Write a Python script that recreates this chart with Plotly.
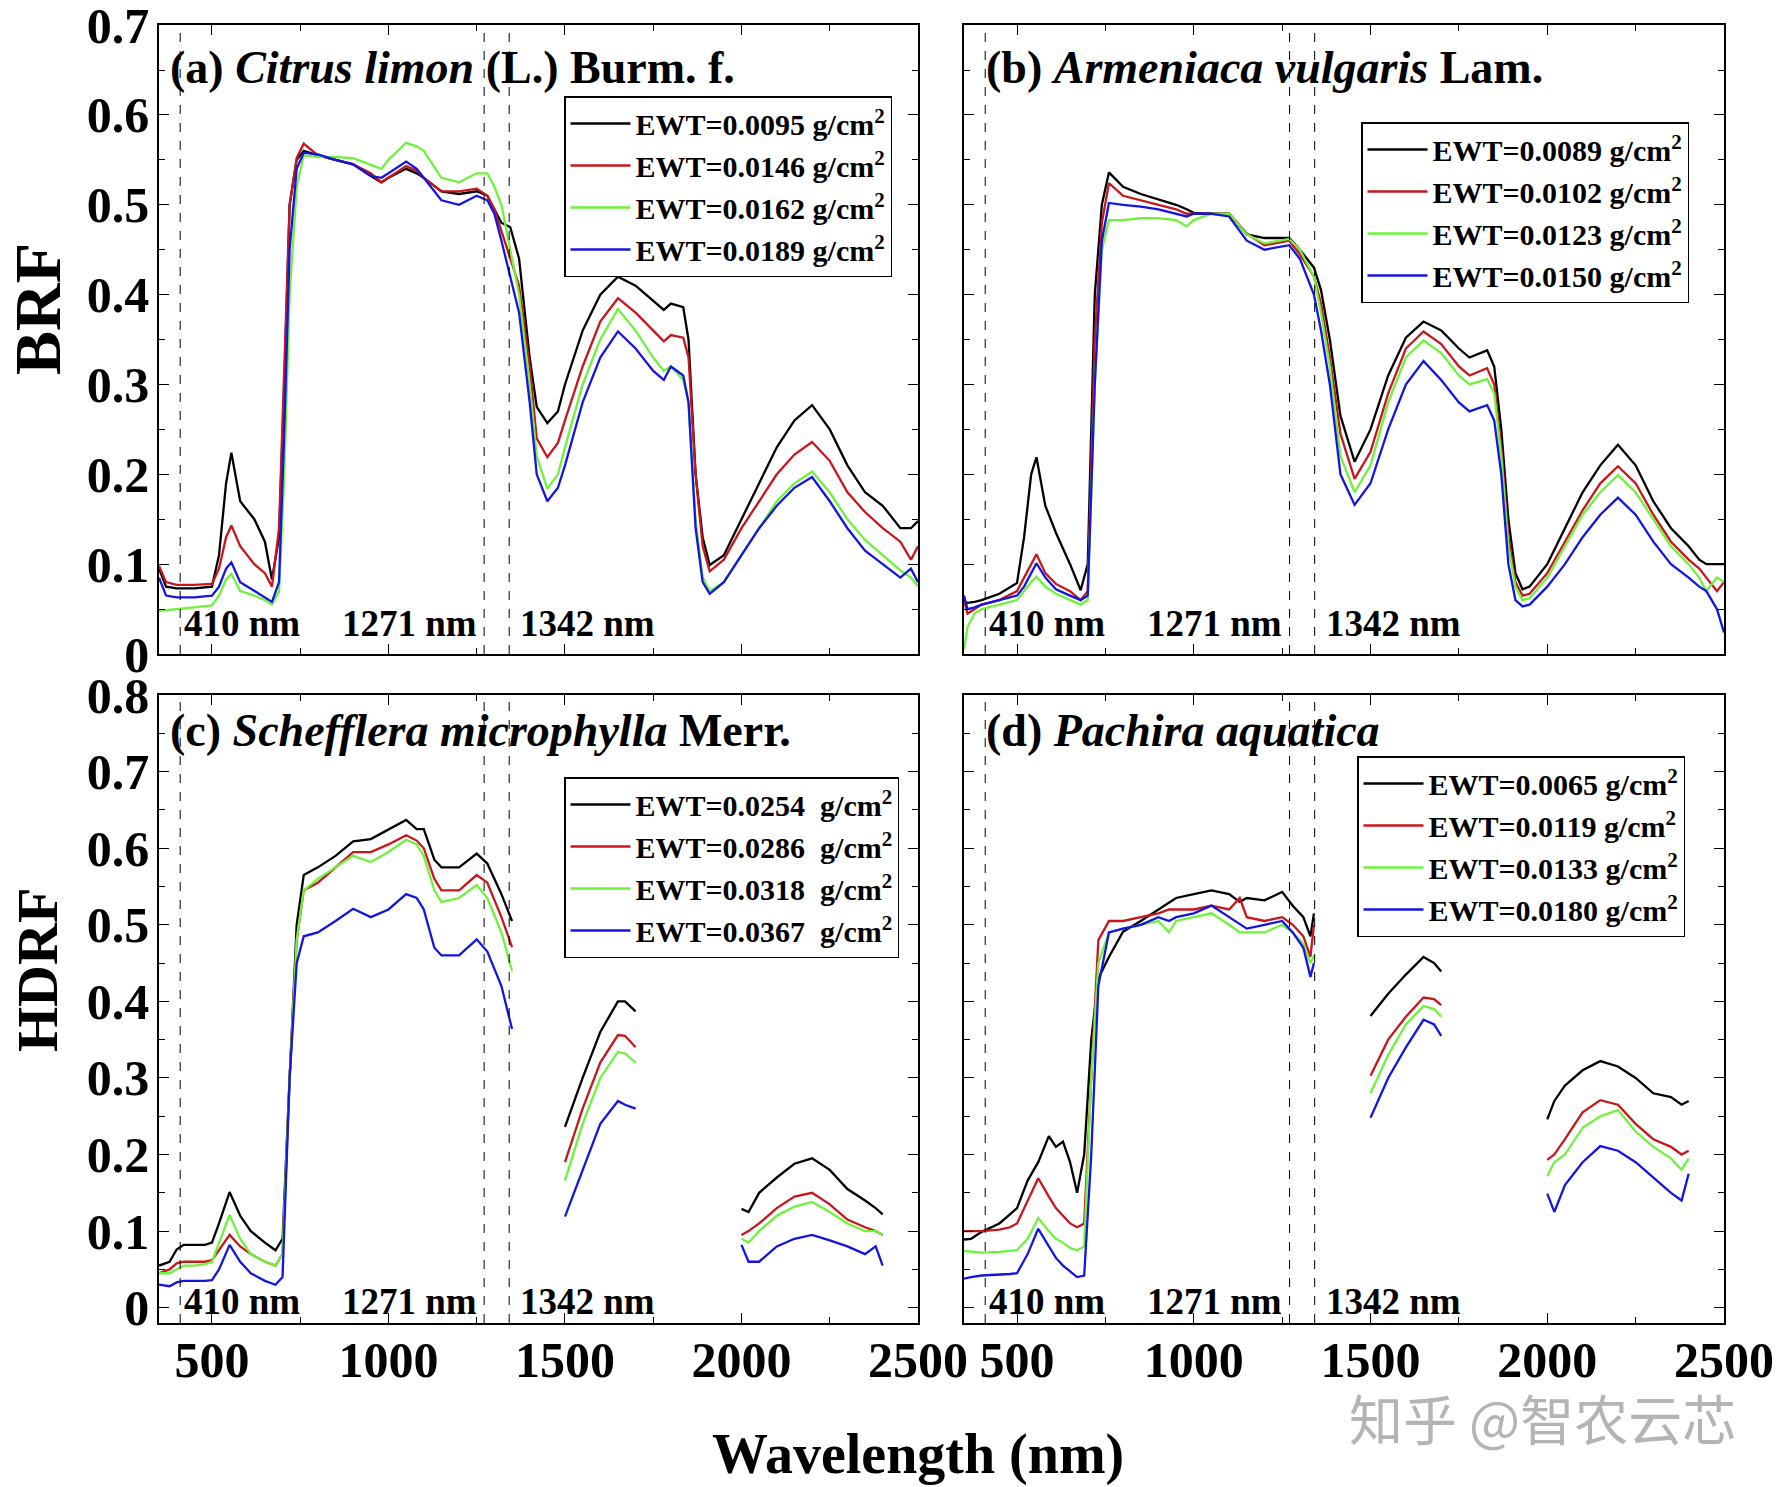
import plotly.graph_objects as go

# ---------------- data ----------------
wl_a = [350, 370, 400, 450, 500, 520, 540, 555, 580, 620, 650, 670, 690, 705, 720, 740, 760, 800, 850, 900,
        950, 980, 1000, 1050, 1080, 1100, 1150, 1200, 1250, 1280, 1300, 1320, 1345, 1370, 1400, 1420, 1450,
        1480, 1500, 1550, 1600, 1650, 1700, 1750, 1780, 1800, 1835, 1850, 1870, 1890, 1910, 1950, 2000, 2050,
        2100, 2150, 2200, 2250, 2300, 2350, 2400, 2450, 2480, 2500]
a_0095 = [0.095, 0.075, 0.073, 0.073, 0.075, 0.11, 0.19, 0.224, 0.17, 0.15, 0.125, 0.083, 0.13, 0.3, 0.5, 0.55,
          0.56, 0.555, 0.55, 0.545, 0.532, 0.525, 0.53, 0.54, 0.535, 0.53, 0.515, 0.512, 0.515, 0.51, 0.495,
          0.48, 0.475, 0.44, 0.33, 0.275, 0.257, 0.27, 0.3, 0.36, 0.4, 0.42, 0.41, 0.393, 0.383, 0.39, 0.386,
          0.35, 0.2, 0.13, 0.099, 0.11, 0.15, 0.19, 0.23, 0.26, 0.277, 0.25, 0.21, 0.18, 0.165, 0.14, 0.14, 0.148]
a_0146 = [0.098, 0.08, 0.077, 0.077, 0.078, 0.095, 0.13, 0.143, 0.12, 0.1, 0.09, 0.075, 0.14, 0.32, 0.5, 0.552,
          0.568, 0.555, 0.55, 0.545, 0.535, 0.525, 0.53, 0.543, 0.538, 0.53, 0.515, 0.515, 0.518, 0.51, 0.495,
          0.47, 0.44, 0.41, 0.32, 0.24, 0.219, 0.235, 0.26, 0.32, 0.37, 0.396, 0.38, 0.36, 0.348, 0.355, 0.352,
          0.33, 0.2, 0.12, 0.092, 0.105, 0.14, 0.17, 0.2, 0.222, 0.236, 0.215, 0.18, 0.158, 0.14, 0.125, 0.105, 0.12]
a_0162 = [0.048, 0.049, 0.05, 0.052, 0.054, 0.065, 0.083, 0.089, 0.07, 0.065, 0.06, 0.055, 0.07, 0.2, 0.4, 0.52,
          0.555, 0.553, 0.553, 0.552, 0.545, 0.54, 0.55, 0.569, 0.565, 0.56, 0.53, 0.525, 0.535, 0.535, 0.52,
          0.5, 0.45, 0.4, 0.3, 0.22, 0.184, 0.2, 0.23, 0.3, 0.35, 0.384, 0.36, 0.33, 0.315, 0.32, 0.305, 0.28,
          0.15, 0.085, 0.07, 0.08, 0.11, 0.14, 0.17, 0.19, 0.203, 0.18, 0.15, 0.127, 0.11, 0.093, 0.085, 0.075]
a_0189 = [0.085, 0.065, 0.063, 0.063, 0.065, 0.075, 0.095, 0.102, 0.08, 0.07, 0.063, 0.058, 0.08, 0.25, 0.45,
          0.54, 0.558, 0.556, 0.55, 0.545, 0.532, 0.53, 0.535, 0.548, 0.54, 0.53, 0.505, 0.5, 0.51, 0.505, 0.49,
          0.46, 0.42, 0.38, 0.28, 0.2, 0.17, 0.185, 0.21, 0.28, 0.33, 0.359, 0.34, 0.315, 0.305, 0.32, 0.31, 0.28,
          0.14, 0.08, 0.067, 0.08, 0.11, 0.14, 0.165, 0.185, 0.197, 0.17, 0.14, 0.115, 0.1, 0.085, 0.095, 0.08]

wl_b = [350, 360, 380, 400, 450, 500, 520, 540, 555, 580, 610, 650, 680, 700, 720, 740, 760, 800, 850, 900, 950,
        980, 1000, 1050, 1100, 1150, 1200, 1270, 1300, 1340, 1360, 1385, 1415, 1455, 1500, 1550, 1600, 1650, 1700,
        1750, 1780, 1830, 1850, 1870, 1890, 1910, 1930, 1950, 2000, 2050, 2100, 2150, 2200, 2250, 2300, 2350,
        2400, 2430, 2450, 2480, 2500]
b_0089 = [0.058, 0.057, 0.058, 0.06, 0.067, 0.079, 0.13, 0.2, 0.219, 0.165, 0.135, 0.1, 0.071, 0.1, 0.4, 0.5,
          0.536, 0.52, 0.512, 0.506, 0.5, 0.495, 0.491, 0.49, 0.49, 0.467, 0.463, 0.463, 0.45, 0.43, 0.405, 0.35,
          0.265, 0.214, 0.25, 0.31, 0.352, 0.37, 0.36, 0.34, 0.33, 0.338, 0.32, 0.25, 0.15, 0.09, 0.072, 0.075,
          0.1, 0.14, 0.18, 0.21, 0.233, 0.21, 0.17, 0.14, 0.12, 0.105, 0.1, 0.1, 0.1]
b_0102 = [0.06, 0.045, 0.05, 0.055, 0.06, 0.07, 0.085, 0.1, 0.111, 0.09, 0.078, 0.07, 0.06, 0.07, 0.35, 0.48,
          0.524, 0.51, 0.505, 0.5, 0.495, 0.49, 0.49, 0.49, 0.49, 0.468, 0.455, 0.46, 0.445, 0.42, 0.39, 0.33,
          0.245, 0.195, 0.225, 0.29, 0.34, 0.359, 0.345, 0.32, 0.31, 0.318, 0.3, 0.23, 0.13, 0.08, 0.065, 0.067,
          0.09, 0.125, 0.16, 0.19, 0.209, 0.19, 0.155, 0.125, 0.105, 0.095, 0.085, 0.07, 0.08]
b_0123 = [0.005, 0.03, 0.045, 0.05, 0.055, 0.06, 0.07, 0.08, 0.086, 0.075, 0.067, 0.06, 0.055, 0.06, 0.3, 0.45,
          0.483, 0.483, 0.485, 0.485, 0.483, 0.476, 0.483, 0.49, 0.49, 0.467, 0.457, 0.462, 0.45, 0.42, 0.38,
          0.32, 0.22, 0.18, 0.21, 0.28, 0.33, 0.349, 0.335, 0.31, 0.3, 0.306, 0.29, 0.22, 0.12, 0.075, 0.06,
          0.062, 0.085, 0.12, 0.155, 0.18, 0.199, 0.18, 0.15, 0.12, 0.1, 0.085, 0.07, 0.085, 0.08]
b_0150 = [0.065, 0.05, 0.052, 0.055, 0.06, 0.065, 0.075, 0.09, 0.101, 0.085, 0.072, 0.065, 0.06, 0.065, 0.3,
          0.46, 0.502, 0.5, 0.498, 0.495, 0.49, 0.487, 0.49, 0.49, 0.487, 0.46, 0.45, 0.455, 0.44, 0.4, 0.36, 0.3,
          0.2, 0.166, 0.19, 0.25, 0.3, 0.326, 0.305, 0.28, 0.27, 0.277, 0.26, 0.2, 0.1, 0.06, 0.053, 0.055, 0.075,
          0.1, 0.13, 0.155, 0.174, 0.155, 0.125, 0.1, 0.085, 0.075, 0.07, 0.05, 0.024]

wl_c = [350, 380, 400, 420, 450, 480, 500, 520, 550, 580, 610, 650, 680, 700, 720, 740, 760, 800, 850, 900, 950,
        1000, 1050, 1080, 1100, 1130, 1150, 1200, 1250, 1280, 1320, 1350, 1425, 1500, 1550, 1600, 1650, 1670,
        1700, 1850, 2000, 2020, 2050, 2100, 2150, 2200, 2250, 2300, 2350, 2380, 2400]
c_0254 = [0.055, 0.06, 0.076, 0.082, 0.082, 0.082, 0.085, 0.11, 0.151, 0.12, 0.1, 0.085, 0.075, 0.09, 0.3, 0.5,
          0.565, 0.575, 0.59, 0.609, 0.612, 0.625, 0.637, 0.625, 0.625, 0.585, 0.575, 0.575, 0.593, 0.58, 0.54,
          0.505, None, 0.236, 0.3, 0.36, 0.4, 0.4, 0.387, None, 0.129, 0.125, 0.15, 0.17, 0.188, 0.195, 0.18,
          0.155, 0.14, 0.13, 0.122]
c_0286 = [0.045, 0.05, 0.058, 0.06, 0.06, 0.06, 0.062, 0.075, 0.095, 0.08, 0.07, 0.06, 0.055, 0.07, 0.3, 0.48,
          0.545, 0.555, 0.575, 0.595, 0.595, 0.605, 0.617, 0.61, 0.6, 0.56, 0.545, 0.545, 0.565, 0.555, 0.51,
          0.471, None, 0.19, 0.26, 0.32, 0.356, 0.355, 0.34, None, 0.095, 0.1, 0.11, 0.13, 0.145, 0.15, 0.135,
          0.115, 0.105, 0.1, 0.095]
c_0318 = [0.045, 0.045, 0.05, 0.055, 0.055, 0.057, 0.06, 0.085, 0.121, 0.09, 0.07, 0.06, 0.055, 0.07, 0.3, 0.48,
          0.545, 0.56, 0.575, 0.59, 0.582, 0.595, 0.611, 0.605, 0.59, 0.545, 0.53, 0.535, 0.552, 0.535, 0.49,
          0.44, None, 0.166, 0.24, 0.3, 0.334, 0.332, 0.32, None, 0.09, 0.085, 0.1, 0.12, 0.132, 0.138, 0.125,
          0.11, 0.1, 0.1, 0.095]
c_0367 = [0.03, 0.028, 0.033, 0.035, 0.035, 0.035, 0.036, 0.05, 0.082, 0.06, 0.045, 0.035, 0.03, 0.04, 0.3, 0.45,
          0.485, 0.49, 0.505, 0.521, 0.51, 0.52, 0.54, 0.535, 0.52, 0.47, 0.46, 0.46, 0.481, 0.465, 0.42, 0.364,
          None, 0.119, 0.18, 0.24, 0.27, 0.265, 0.26, None, 0.082, 0.06, 0.06, 0.08, 0.09, 0.095, 0.088, 0.08,
          0.07, 0.08, 0.055]

wl_d = [350, 370, 400, 450, 480, 500, 530, 560, 590, 610, 630, 650, 670, 690, 710, 730, 760, 800, 850, 900, 930,
        950, 1000, 1050, 1100, 1130, 1150, 1200, 1250, 1280, 1310, 1330, 1340, 1425, 1500, 1550, 1600, 1650,
        1680, 1700, 1850, 2000, 2020, 2050, 2100, 2150, 2200, 2250, 2300, 2350, 2380, 2400]
d_0065 = [0.089, 0.09, 0.099, 0.11, 0.122, 0.13, 0.166, 0.19, 0.224, 0.21, 0.217, 0.19, 0.15, 0.2, 0.35, 0.43,
          0.458, 0.491, 0.505, 0.52, 0.53, 0.535, 0.54, 0.545, 0.54, 0.53, 0.535, 0.532, 0.543, 0.525, 0.51,
          0.485, 0.515, None, 0.381, 0.41, 0.435, 0.458, 0.45, 0.439, None, 0.246, 0.27, 0.29, 0.31, 0.322,
          0.315, 0.3, 0.28, 0.275, 0.265, 0.27]
d_0119 = [0.1, 0.1, 0.1, 0.102, 0.105, 0.11, 0.14, 0.169, 0.145, 0.13, 0.12, 0.11, 0.105, 0.11, 0.3, 0.48,
          0.505, 0.505, 0.51, 0.515, 0.52, 0.52, 0.52, 0.525, 0.52, 0.535, 0.51, 0.505, 0.51, 0.5, 0.485, 0.458,
          0.5, None, 0.303, 0.35, 0.38, 0.405, 0.403, 0.395, None, 0.193, 0.2, 0.22, 0.255, 0.271, 0.265, 0.24,
          0.22, 0.21, 0.2, 0.205]
d_0133 = [0.074, 0.073, 0.072, 0.073, 0.074, 0.075, 0.09, 0.117, 0.1, 0.09, 0.085, 0.078, 0.075, 0.08, 0.3, 0.45,
          0.49, 0.495, 0.5, 0.505, 0.49, 0.505, 0.51, 0.515, 0.5, 0.49, 0.49, 0.49, 0.5, 0.49, 0.475, 0.45, 0.46,
          None, 0.28, 0.33, 0.37, 0.394, 0.39, 0.38, None, 0.172, 0.19, 0.2, 0.235, 0.25, 0.258, 0.23, 0.21,
          0.195, 0.18, 0.195]
d_0180 = [0.038, 0.04, 0.042, 0.043, 0.044, 0.045, 0.07, 0.103, 0.08, 0.065, 0.055, 0.047, 0.04, 0.042, 0.2,
          0.42, 0.49, 0.495, 0.5, 0.51, 0.505, 0.51, 0.515, 0.525, 0.51, 0.5, 0.495, 0.5, 0.505, 0.49, 0.47,
          0.432, 0.45, None, 0.248, 0.3, 0.34, 0.376, 0.37, 0.355, None, 0.149, 0.125, 0.16, 0.19, 0.211,
          0.205, 0.19, 0.17, 0.15, 0.14, 0.175]

labels_a = ["EWT=0.0095 g/cm<sup>2</sup>", "EWT=0.0146 g/cm<sup>2</sup>",
            "EWT=0.0162 g/cm<sup>2</sup>", "EWT=0.0189 g/cm<sup>2</sup>"]
labels_b = ["EWT=0.0089 g/cm<sup>2</sup>", "EWT=0.0102 g/cm<sup>2</sup>",
            "EWT=0.0123 g/cm<sup>2</sup>", "EWT=0.0150 g/cm<sup>2</sup>"]
labels_c = ["EWT=0.0254 \u00a0g/cm<sup>2</sup>", "EWT=0.0286 \u00a0g/cm<sup>2</sup>",
            "EWT=0.0318 \u00a0g/cm<sup>2</sup>", "EWT=0.0367 \u00a0g/cm<sup>2</sup>"]
labels_d = ["EWT=0.0065 g/cm<sup>2</sup>", "EWT=0.0119 g/cm<sup>2</sup>",
            "EWT=0.0133 g/cm<sup>2</sup>", "EWT=0.0180 g/cm<sup>2</sup>"]

panel_titles = ["(a) <i>Citrus limon</i> (L.) Burm. f.",
                "(b) <i>Armeniaca vulgaris</i> Lam.",
                "(c) <i>Schefflera microphylla</i> Merr.",
                "(d) <i>Pachira aquatica</i>"]
marker_wavelengths = [410, 1271, 1342]
marker_labels = ["410 nm", "1271 nm", "1342 nm"]
marker_label_x = [585, 1060, 1565]

colors = ["#000000", "#c8161d", "#6ef23c", "#1515e0"]
FONT = "Liberation Serif"

panels = [
    dict(wl=wl_a, series=[a_0095, a_0146, a_0162, a_0189], labels=labels_a),
    dict(wl=wl_b, series=[b_0089, b_0102, b_0123, b_0150], labels=labels_b),
    dict(wl=wl_c, series=[c_0254, c_0286, c_0318, c_0367], labels=labels_c),
    dict(wl=wl_d, series=[d_0065, d_0119, d_0133, d_0180], labels=labels_d),
]

W, H = 1778, 1487
# panel boxes in pixels (left, right, top, bottom)
boxes = [(159, 918, 25, 654), (964, 1724, 25, 654), (159, 918, 695, 1323), (964, 1724, 695, 1323)]
legend_pos = [(564, 96), (1361, 122), (564, 777), (1357, 756)]
yranges = [[0, 0.7001], [0, 0.7001], [-0.02, 0.8001], [-0.02, 0.8001]]

fig = go.Figure()
legend_names = ["legend", "legend2", "legend3", "legend4"]

for i, p in enumerate(panels):
    xa = "x" if i == 0 else f"x{i+1}"
    ya = "y" if i == 0 else f"y{i+1}"
    for j, (ser, lab) in enumerate(zip(p["series"], p["labels"])):
        fig.add_trace(go.Scatter(
            x=p["wl"], y=ser, mode="lines", name=lab,
            line=dict(color=colors[j], width=2.3),
            xaxis=xa, yaxis=ya, connectgaps=False,
            legend=legend_names[i], legendgroup=f"p{i}s{j}",
        ))

layout = dict(
    width=W, height=H, margin=dict(l=0, r=0, t=0, b=0, autoexpand=False),
    paper_bgcolor="white", plot_bgcolor="white", showlegend=True,
    font=dict(family=FONT, color="black"),
)

for i, (l, r, t, b) in enumerate(boxes):
    sx = "" if i == 0 else str(i + 1)
    xdom = [l / W, r / W]
    ydom = [1 - b / H, 1 - t / H]
    layout["xaxis" + sx] = dict(
        domain=xdom, range=[350, 2500], anchor="y" + sx, automargin=False,
        tick0=0, dtick=500, ticks="inside", ticklen=10, tickwidth=1.3, tickcolor="black",
        minor=dict(dtick=250, tick0=0, ticks="inside", ticklen=6, tickwidth=1.2, tickcolor="black"),
        showline=True, linecolor="black", linewidth=1.5, mirror="ticks",
        showgrid=False, zeroline=False,
        showticklabels=(i >= 2), ticklabelstandoff=-8, ticklabeloverflow="allow",
        tickfont=dict(family=FONT, size=50, color="black", weight="bold"),
    )
    layout["yaxis" + sx] = dict(
        domain=ydom, range=yranges[i], anchor="x" + sx, automargin=False,
        tick0=0, dtick=0.1, ticks="inside", ticklen=10, tickwidth=1.3, tickcolor="black",
        minor=dict(dtick=0.05, tick0=0, ticks="inside", ticklen=6, tickwidth=1.2, tickcolor="black"),
        showline=True, linecolor="black", linewidth=1.5, mirror="ticks",
        showgrid=False, zeroline=False,
        showticklabels=(i % 2 == 0), ticklabelstandoff=-2, ticklabeloverflow="allow",
        tickfont=dict(family=FONT, size=50, color="black", weight="bold"),
    )
    lx, ly = legend_pos[i]
    layout[legend_names[i]] = dict(
        x=lx / W, y=1 - ly / H, xanchor="left", yanchor="top",
        bgcolor="white", bordercolor="black", borderwidth=1.5,
        font=dict(family=FONT, size=30, color="black", weight="bold"),
        itemwidth=60, tracegroupgap=2, traceorder="normal",
    )

shapes = []
annotations = []
for i in range(4):
    sx = "" if i == 0 else str(i + 1)
    for wl in marker_wavelengths:
        shapes.append(dict(type="line", xref="x" + sx, yref=f"y{sx} domain", x0=wl, x1=wl, y0=0, y1=1,
                           line=dict(color="black", width=1, dash="dash")))
    ylab = 0.048 if i < 2 else 0.035
    for txt, xl in zip(marker_labels, marker_label_x):
        annotations.append(dict(text=f"<b>{txt}</b>", xref="x" + sx, yref=f"y{sx} domain", x=xl, y=ylab,
                                showarrow=False, xanchor="center", yanchor="middle",
                                font=dict(family=FONT, size=37, color="black")))
    title_y = 0.932 if i < 2 else 0.943
    title_x = 0.012 if i % 2 == 0 else 0.026
    annotations.append(dict(text=f"<b>{panel_titles[i]}</b>", xref=f"x{sx} domain", yref=f"y{sx} domain",
                            x=title_x, y=title_y, showarrow=False, xanchor="left", yanchor="middle",
                            font=dict(family=FONT, size=46, color="black")))

annotations.append(dict(text="<b>BRF</b>", xref="paper", yref="paper", x=37 / W, y=1 - 309 / H,
                        showarrow=False, textangle=-90, xanchor="center", yanchor="middle",
                        font=dict(family=FONT, size=66, color="black")))
annotations.append(dict(text="<b>HDRF</b>", xref="paper", yref="paper", x=37 / W, y=1 - 970 / H,
                        showarrow=False, textangle=-90, xanchor="center", yanchor="middle",
                        font=dict(family=FONT, size=58, color="black")))
annotations.append(dict(text="<b>Wavelength (nm)</b>", xref="paper", yref="paper", x=918 / W, y=1 - 1454 / H,
                        showarrow=False, xanchor="center", yanchor="middle",
                        font=dict(family=FONT, size=56, color="black")))
annotations.append(dict(text="知乎 @智农云芯", xref="paper", yref="paper", x=1542 / W, y=1 - 1417 / H,
                        showarrow=False, xanchor="center", yanchor="middle",
                        font=dict(family="Noto Sans CJK SC", size=54, color="#b4b4b4")))

layout["shapes"] = shapes
layout["annotations"] = annotations
fig.update_layout(**layout)
fig.write_html("out.html")
